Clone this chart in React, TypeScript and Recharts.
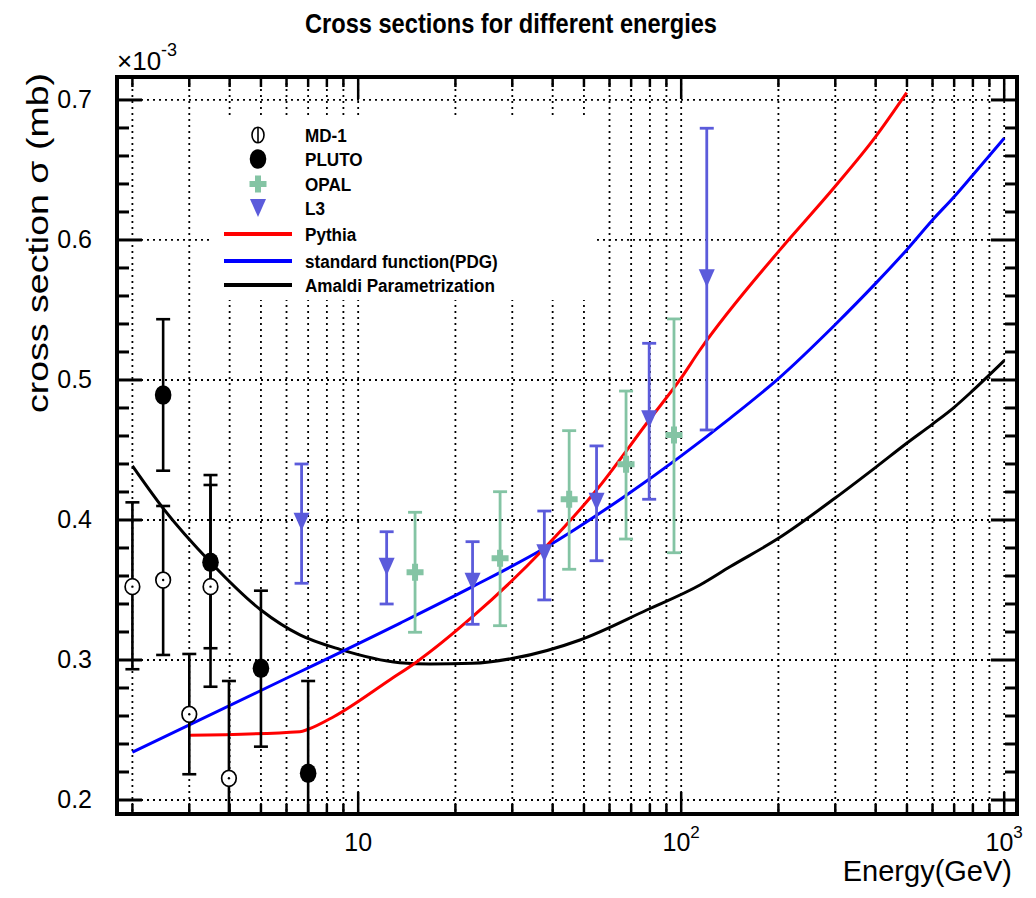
import React from "react";
import { ComposedChart, Scatter, Line, XAxis, YAxis, CartesianGrid, ErrorBar, Legend } from "recharts";

// frame of the ROOT pad (page pixels)
const FRAME = { left: 117, right: 1017, top: 77, bottom: 814 };
const FONT = '"Liberation Sans", Arial, Helvetica, sans-serif';

// axis ticks
const xTicks = [2, 3, 4, 5, 6, 7, 8, 9, 10, 20, 30, 40, 50, 60, 70, 80, 90, 100, 200, 300, 400, 500, 600, 700, 800, 900, 1000];
const xLabelTicks = [10, 100, 1000];
const xLabelExps = ["", "2", "3"];
const yMajorTicks = [0.2, 0.3, 0.4, 0.5, 0.6, 0.7];
const yTickLabels = ["0.2", "0.3", "0.4", "0.5", "0.6", "0.7"];
const yMinorTicks = [0.22, 0.24, 0.26, 0.28, 0.32, 0.34, 0.36, 0.38, 0.42, 0.44, 0.46, 0.48, 0.52, 0.54, 0.56, 0.58, 0.62, 0.64, 0.66, 0.68];

// MD-1
const md1Energy = [2.0, 2.49, 3.0, 3.49, 3.98];
const md1Sigma = [0.3524, 0.3571, 0.2612, 0.3524, 0.2155];
const md1Low = [0.2934, 0.3036, 0.2184, 0.2809, 0.146];
const md1High = [0.4126, 0.41, 0.3043, 0.425, 0.285];

// PLUTO
const plutoEnergy = [2.49, 3.49, 5.0, 7.0];
const plutoSigma = [0.4893, 0.3698, 0.2941, 0.2191];
const plutoLow = [0.4352, 0.3084, 0.2381, 0.153];
const plutoHigh = [0.5434, 0.4321, 0.3495, 0.285];

// OPAL
const opalEnergy = [15.0, 27.5, 45.0, 67.5, 95.0];
const opalSigma = [0.3626, 0.3726, 0.4148, 0.4398, 0.4607];
const opalLow = [0.3198, 0.3245, 0.3648, 0.3864, 0.3766];
const opalHigh = [0.4055, 0.4202, 0.4638, 0.4921, 0.5436];

// L3
const l3Energy = [6.68, 12.25, 22.6, 37.7, 54.7, 79.6, 120];
const l3Sigma = [0.3988, 0.3666, 0.3559, 0.3762, 0.4131, 0.4719, 0.5726];
const l3Low = [0.3548, 0.34, 0.3255, 0.3429, 0.3709, 0.4148, 0.4643];
const l3High = [0.44, 0.3916, 0.3845, 0.4064, 0.4529, 0.5262, 0.6798];

// Pythia
const pythiaEnergy = [3.0, 6.6, 7.0, 8.4, 12.55, 15.2, 22.6, 37.7, 54.7, 79.6, 99, 114.3, 200, 299, 400, 499];
const pythiaSigma = [0.2462, 0.2488, 0.2505, 0.2595, 0.2859, 0.2988, 0.3309, 0.3798, 0.4214, 0.4714, 0.5, 0.5214, 0.5917, 0.638, 0.6738, 0.7052];

// standard function (PDG)
const pdgEnergy = [2.0, 5.0, 13.45, 22.6, 37.7, 67.8, 141.6, 200, 299, 400, 499, 600, 700, 800, 1000];
const pdgSigma = [0.2341, 0.2782, 0.3262, 0.3524, 0.3798, 0.4179, 0.4726, 0.501, 0.5393, 0.569, 0.5929, 0.6143, 0.6309, 0.6464, 0.6726];

// Amaldi parametrization
const amaldiEnergy = [2.0, 2.49, 3.49, 5.0, 6.6, 8.78, 13.45, 16.7, 22.6, 30.2, 48.6, 78.2, 114.3, 141.6, 200, 299, 400, 499, 600, 700, 800, 1000];
const amaldiSigma = [0.4386, 0.4083, 0.3698, 0.3357, 0.3179, 0.3076, 0.2981, 0.2971, 0.2976, 0.3012, 0.3143, 0.3357, 0.3536, 0.3666, 0.3869, 0.4155, 0.4376, 0.4548, 0.4685, 0.4805, 0.4925, 0.5138];

const points = (e: number[], s: number[], lo: number[], hi: number[]) =>
  e.map((x, i) => ({ e: x, s: s[i], err: [s[i] - lo[i], hi[i] - s[i]] }));
const curve = (e: number[], s: number[]) => e.map((x, i) => ({ e: x, s: s[i] }));

const md1Data = points(md1Energy, md1Sigma, md1Low, md1High);
const plutoData = points(plutoEnergy, plutoSigma, plutoLow, plutoHigh);
const opalData = points(opalEnergy, opalSigma, opalLow, opalHigh);
const l3Data = points(l3Energy, l3Sigma, l3Low, l3High);

const OPAL_COLOR = "#84c4a4";
const L3_COLOR = "#5b5bdb";

const OpenCircle = ({ cx, cy }: any) => (
  <g>
    <ellipse cx={cx} cy={cy} rx={7.3} ry={8} fill="#fff" stroke="#000" strokeWidth={1.7} />
    <circle cx={cx} cy={cy} r={1.2} fill="#000" />
  </g>
);
const FullCircle = ({ cx, cy }: any) => <ellipse cx={cx} cy={cy} rx={8.3} ry={9.8} fill="#000" />;
const Plus = ({ cx, cy }: any) => (
  <path
    d={`M${cx - 3},${cy - 8.5}h6v5.5h5.5v6h-5.5v5.5h-6v-5.5h-5.5v-6h5.5z`}
    fill={OPAL_COLOR}
  />
);
const TriangleDown = ({ cx, cy }: any) => (
  <path d={`M${cx - 8},${cy - 9}L${cx + 8},${cy - 9}L${cx},${cy + 9}z`} fill={L3_COLOR} />
);

const XTick = (props: any) => {
  const { x, payload } = props;
  const i = xLabelTicks.indexOf(payload.value);
  const len = i >= 0 ? 22 : 10;
  return (
    <g>
      <line x1={x} x2={x} y1={FRAME.bottom} y2={FRAME.bottom - len} stroke="#000" strokeWidth={2.5} />
      <line x1={x} x2={x} y1={FRAME.top} y2={FRAME.top + len} stroke="#000" strokeWidth={2.5} />
      {i >= 0 && (
        <text x={x} y={851} textAnchor="middle" fontSize={25} fontFamily={FONT} fill="#000">
          10
          {xLabelExps[i] && (
            <tspan dy={-13} fontSize={17}>
              {xLabelExps[i]}
            </tspan>
          )}
        </text>
      )}
    </g>
  );
};

const YTick = (props: any) => {
  const { y, payload } = props;
  const i = yMajorTicks.indexOf(payload.value);
  const major = i >= 0;
  return (
    <g>
      <line x1={FRAME.left} x2={FRAME.left + (major ? 25 : 12)} y1={y} y2={y} stroke="#000" strokeWidth={3} />
      <line x1={FRAME.right} x2={FRAME.right - (major ? 26 : 12)} y1={y} y2={y} stroke="#000" strokeWidth={3} />
      {major && (
        <text x={92} y={y + 8.5} textAnchor="end" fontSize={25} fontFamily={FONT} fill="#000">
          {yTickLabels[i]}
        </text>
      )}
    </g>
  );
};

const legendRows = [
  { name: "MD-1", kind: "md1", cy: 17 },
  { name: "PLUTO", kind: "pluto", cy: 41 },
  { name: "OPAL", kind: "opal", cy: 66 },
  { name: "L3", kind: "l3", cy: 90 },
  { name: "Pythia", kind: "#ff0000", cy: 116 },
  { name: "standard function(PDG)", kind: "#0000ff", cy: 143 },
  { name: "Amaldi Parametrization", kind: "#000000", cy: 167 },
];

const LegendBox = () => (
  <svg width={383} height={182} style={{ display: "block" }}>
    {legendRows.map((r) => {
      let mark: React.ReactNode;
      if (r.kind === "md1")
        mark = (
          <g>
            <ellipse cx={46} cy={r.cy} rx={6} ry={7.8} fill="#fff" stroke="#000" strokeWidth={1.6} />
            <line x1={46} x2={46} y1={r.cy - 7.8} y2={r.cy + 7.8} stroke="#000" strokeWidth={1.6} />
          </g>
        );
      else if (r.kind === "pluto") mark = <FullCircle cx={46} cy={r.cy} />;
      else if (r.kind === "opal") mark = <Plus cx={46} cy={r.cy} />;
      else if (r.kind === "l3") mark = <TriangleDown cx={46} cy={r.cy} />;
      else mark = <line x1={12} x2={80} y1={r.cy} y2={r.cy} stroke={r.kind} strokeWidth={4} />;
      return (
        <g key={r.name}>
          {mark}
          <text
            transform={`translate(93,${r.cy + 7}) scale(0.9,1)`}
            fontSize={19}
            fontWeight="bold"
            fontFamily={FONT}
            fill="#000"
          >
            {r.name}
          </text>
        </g>
      );
    })}
  </svg>
);

export default function App() {
  return (
    <div style={{ position: "absolute", left: 0, top: 0, width: 1036, height: 898, background: "#fff" }}>
      <style>{`.recharts-errorBar line { clip-path: url(#frameClip); }`}</style>
      <ComposedChart
        width={1036}
        height={898}
        margin={{ top: FRAME.top, right: 1036 - FRAME.right, bottom: 898 - FRAME.bottom - 1, left: FRAME.left - 1 }}
      >
        <CartesianGrid
          stroke="#000"
          strokeWidth={1.8}
          strokeDasharray="2 4"
          horizontalValues={yMajorTicks}
          verticalValues={xTicks}
        />
        <XAxis
          dataKey="e"
          type="number"
          scale="log"
          domain={[1.792, 1095.6]}
          allowDataOverflow
          ticks={xTicks}
          interval={0}
          tick={XTick}
          tickLine={false}
          axisLine={false}
          height={1}
        />
        <YAxis
          dataKey="s"
          type="number"
          domain={[0.19, 0.7164]}
          allowDataOverflow
          ticks={[...yMajorTicks, ...yMinorTicks]}
          interval={0}
          tick={YTick}
          tickLine={false}
          axisLine={false}
          width={1}
        />
        <Line data={curve(amaldiEnergy, amaldiSigma)} dataKey="s" type="monotone" stroke="#000000" strokeWidth={3} dot={false} isAnimationActive={false} />
        <Line data={curve(pdgEnergy, pdgSigma)} dataKey="s" type="monotone" stroke="#0000ff" strokeWidth={3} dot={false} isAnimationActive={false} />
        <Line data={curve(pythiaEnergy, pythiaSigma)} dataKey="s" type="monotone" stroke="#ff0000" strokeWidth={3} dot={false} isAnimationActive={false} />
        <Scatter data={md1Data} dataKey="s" shape={OpenCircle} isAnimationActive={false}>
          <ErrorBar dataKey="err" direction="y" width={7} stroke="#000" strokeWidth={2.6} />
        </Scatter>
        <Scatter data={plutoData} dataKey="s" shape={FullCircle} isAnimationActive={false}>
          <ErrorBar dataKey="err" direction="y" width={7} stroke="#000" strokeWidth={2.6} />
        </Scatter>
        <Scatter data={opalData} dataKey="s" shape={Plus} isAnimationActive={false}>
          <ErrorBar dataKey="err" direction="y" width={7} stroke={OPAL_COLOR} strokeWidth={2.8} />
        </Scatter>
        <Scatter data={l3Data} dataKey="s" shape={TriangleDown} isAnimationActive={false}>
          <ErrorBar dataKey="err" direction="y" width={7} stroke={L3_COLOR} strokeWidth={2.8} />
        </Scatter>
        <Legend
          layout="vertical"
          align="center"
          verticalAlign="middle"
          content={LegendBox}
          wrapperStyle={{ left: 212, top: 118, width: 383, height: 182, background: "#fff" }}
        />
      </ComposedChart>
      <svg
        width={1036}
        height={898}
        style={{ position: "absolute", left: 0, top: 0, pointerEvents: "none" }}
      >
        <defs>
          <clipPath id="frameClip" clipPathUnits="userSpaceOnUse">
            <rect x={FRAME.left} y={FRAME.top} width={FRAME.right - FRAME.left} height={FRAME.bottom - FRAME.top} />
          </clipPath>
        </defs>
        <rect
          x={FRAME.left}
          y={FRAME.top}
          width={FRAME.right - FRAME.left}
          height={FRAME.bottom - FRAME.top}
          fill="none"
          stroke="#000"
          strokeWidth={4}
        />
        <text x={305} y={33} fontSize={28} fontWeight="bold" fontFamily={FONT} textLength={412} lengthAdjust="spacingAndGlyphs">
          Cross sections for different energies
        </text>
        <text x={117} y={70} fontSize={26} fontFamily={FONT}>
          ×10
          <tspan dy={-14} fontSize={18}>-3</tspan>
        </text>
        <text
          transform="translate(48,243) rotate(-90)"
          textAnchor="middle"
          fontSize={29}
          fontFamily={FONT}
          textLength={340}
          lengthAdjust="spacingAndGlyphs"
        >
          cross section σ (mb)
        </text>
        <text x={1012} y={881} textAnchor="end" fontSize={29} fontFamily={FONT}>
          Energy(GeV)
        </text>
      </svg>
    </div>
  );
}
